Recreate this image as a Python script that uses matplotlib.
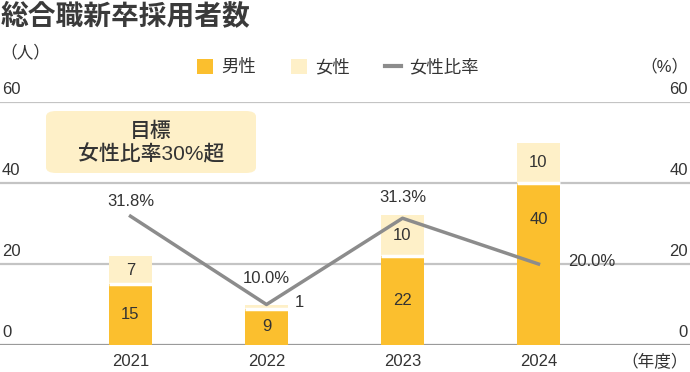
import matplotlib
matplotlib.use("Agg")
import matplotlib.pyplot as plt
import matplotlib.transforms as mtransforms
from matplotlib.patches import Patch, FancyBboxPatch
from matplotlib.lines import Line2D
import numpy as np

plt.rcParams['font.family'] = ['Liberation Sans', 'Noto Sans CJK JP']

years = ["2021", "2022", "2023", "2024"]
male = [15, 9, 22, 40]
female = [7, 1, 10, 10]
female_ratio = [31.8, 10.0, 31.3, 20.0]
yticks = [0, 20, 40, 60]

c_male = "#fbbf2e"
c_female = "#fef0c8"
c_line = "#8c8c8c"
c_text = "#333333"

W, H = 690, 372
fig = plt.figure(figsize=(W / 100, H / 100), dpi=100)
ax = fig.add_axes([0, (H - 345) / H, 1, (345 - 102) / H])

x = np.arange(len(years))
step = 136.0
x0 = 130.5
ax.set_xlim(-x0 / step, (W - x0) / step)
ax.set_ylim(0, 60)
bw = 43 / step

for v in yticks:
    ax.axhline(v, color="#9a9a9a" if v == 0 else "#c4c4c4", lw=1.6, zorder=1)

ax.bar(x, male, width=bw, color=c_male, zorder=2)
ax.bar(x, female, width=bw, bottom=male, color=c_female, zorder=2)
ax.hlines(male, x - bw / 2, x + bw / 2, color="white", lw=2.5, zorder=3)
ax.plot(x, female_ratio, color=c_line, lw=2.5, zorder=4)

for spine in ax.spines.values():
    spine.set_visible(False)
ax.set_xticks([])
ax.set_yticks([])

fs = 12
# axis labels
trl = mtransforms.blended_transform_factory(fig.transFigure, ax.transData)
for v in yticks:
    ax.text(2 / W, v + 1.2, str(v), transform=trl, ha="left", va="bottom",
            fontsize=fs, color=c_text)
    ax.text(1 - 2 / W, v + 1.2, str(v), transform=trl, ha="right", va="bottom",
            fontsize=fs, color=c_text)
for i, yr in enumerate(years):
    fig.text((x0 + i * step) / W, 1 - 362 / H, yr, ha="center", va="center",
             fontsize=fs, color=c_text)
fig.text(1 - 2 / W, 1 - 362 / H, "（年度）", ha="right", va="center", fontsize=12, color=c_text)
fig.text(0 / W, 1 - 52 / H, "（人）", ha="left", va="center", fontsize=12, color=c_text)
fig.text(1 - 1 / W, 1 - 66 / H, "（%）", ha="right", va="center", fontsize=12, color=c_text)

# bar value labels
for i in range(len(years)):
    my = male[i] - 9 if i == len(years) - 1 else male[i] / 2
    ax.text(x[i], my, str(male[i]), ha="center", va="center", fontsize=fs, color=c_text, zorder=5)
    if female[i] >= 5:
        ax.text(x[i], male[i] + female[i] / 2, str(female[i]), ha="center", va="center",
                fontsize=fs, color=c_text, zorder=5)
    else:
        ax.text(x[i] + bw / 2 + 0.05, male[i] + female[i] + 0.5, str(female[i]), ha="left",
                va="center", fontsize=fs, color=c_text, zorder=5)

# ratio labels
offs = [(0, 3.6), (0, 6.5), (0, 5.2)]
for i, (dx, dy) in enumerate(offs):
    ax.text(x[i] + dx, female_ratio[i] + dy, f"{female_ratio[i]:.1f}%", ha="center",
            va="center", fontsize=fs, color=c_text, zorder=5)
ax.text(x[3] + 0.22, female_ratio[3] + 0.5, f"{female_ratio[3]:.1f}%", ha="left",
        va="center", fontsize=fs, color=c_text, zorder=5)

# target box
box = FancyBboxPatch((46 / W, 1 - 173 / H), 210 / W, 62 / H, boxstyle="round,pad=0,rounding_size=0.015",
                     transform=fig.transFigure, facecolor=c_female, edgecolor="none", zorder=1)
fig.patches.append(box)
fig.text(151 / W, 1 - 131 / H, "目標", ha="center", va="center", fontsize=15, color=c_text,
         fontweight="medium", zorder=7)
fig.text(151 / W, 1 - 154 / H, "女性比率30%超", ha="center", va="center", fontsize=15, color=c_text,
         fontweight="medium", zorder=7)

# title
fig.text(1 / W, 1 - 17 / H, "総合職新卒採用者数", ha="left", va="center", fontsize=20,
         fontweight="bold", color="#3a3a3a")

# legend
handles = [Patch(facecolor=c_male, edgecolor="none", label="男性"),
           Patch(facecolor=c_female, edgecolor="none", label="女性"),
           Line2D([0], [0], color=c_line, lw=3, label="女性比率")]
fig.legend(handles=handles, loc="center", bbox_to_anchor=(338 / W, 1 - 67 / H), ncol=3,
           frameon=False, fontsize=12.5, handlelength=0.9, handleheight=0.9, handletextpad=0.5,
           columnspacing=2.0, labelcolor=c_text)

fig.savefig("out.png", dpi=100)
